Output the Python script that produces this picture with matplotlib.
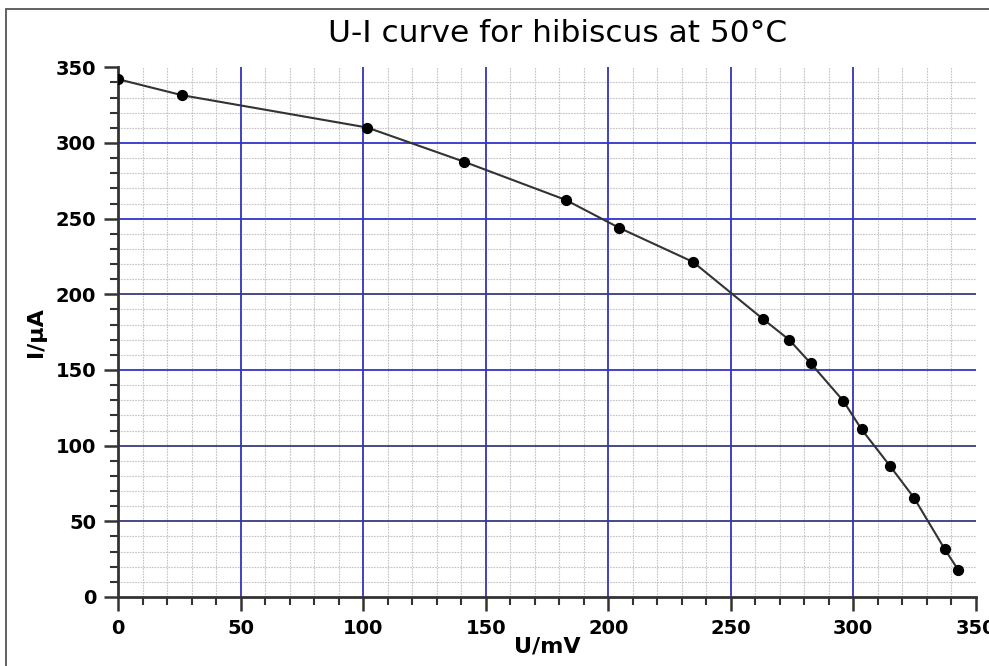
import matplotlib
matplotlib.use("Agg")
import matplotlib.pyplot as plt
from matplotlib.patches import Rectangle
import numpy as np

# Data
voltage_mV = [0, 25.9, 101.6, 141.0, 182.6, 204.5, 234.6, 263.0, 273.9, 282.6,
              295.9, 303.4, 315.0, 324.8, 337.4, 342.9]
current_uA = [342.1, 331.6, 310.2, 287.7, 262.4, 243.9, 221.4, 183.9, 169.9, 154.5,
              129.7, 110.8, 86.6, 65.6, 31.5, 17.8]
x_ticks = [0, 50, 100, 150, 200, 250, 300, 350]
y_ticks = [0, 50, 100, 150, 200, 250, 300, 350]
title = "U-I curve for hibiscus at 50°C"
xlabel = "U/mV"
ylabel = "I/μA"

plt.rcParams['font.family'] = ['DejaVu Sans']

W, H = 989, 666
fig = plt.figure(figsize=(W / 100, H / 100), dpi=100)
fig.patch.set_facecolor('white')

# outer frame
fig.add_artist(Rectangle((6 / W, -0.1), 1.2, 1 - 9 / H + 0.1, transform=fig.transFigure,
                         fill=False, edgecolor='#555555', linewidth=1.3))

x0, x1 = 118.3, 975.7
y0, y1 = 597, 67.3
ax = fig.add_axes([x0 / W, (H - y0) / H, (x1 - x0) / W, (y0 - y1) / H])
ax.set_xlim(0, 350)
ax.set_ylim(0, 350)

# minor grid
for v in range(10, 350, 10):
    if v % 50 != 0:
        ax.axvline(v, color='#c4c4c4', linestyle=(0, (1.5, 1.0)), linewidth=0.8, zorder=1)
        ax.axhline(v, color='#c4c4c4', linestyle=(0, (1.5, 1.0)), linewidth=0.8, zorder=1)
# major grid
for v in x_ticks[1:-1]:
    ax.axvline(v, color='#3333bb', linewidth=1.3, zorder=2)
for v in y_ticks[1:-1]:
    c = '#3a3a80' if v in (50, 100, 200) else '#3333cc'
    ax.axhline(v, color=c, linewidth=1.3, zorder=2)

ax.plot(voltage_mV, current_uA, color='#333333', linewidth=1.5, zorder=3)
ax.scatter(voltage_mV, current_uA, s=50, color='black', zorder=4)

ax.set_xticks(x_ticks)
ax.set_yticks(y_ticks)
ax.set_xticks(np.arange(0, 351, 10), minor=True)
ax.set_yticks(np.arange(0, 351, 10), minor=True)
ax.tick_params(which='major', length=10, width=1.8, color='#333333', labelsize=14, pad=6)
ax.tick_params(which='minor', length=6, width=1.5, color='#333333')
for lab in ax.get_xticklabels() + ax.get_yticklabels():
    lab.set_fontweight('bold')

for s in ['top', 'right']:
    ax.spines[s].set_visible(False)
for s in ['left', 'bottom']:
    ax.spines[s].set_linewidth(2)
    ax.spines[s].set_color('#333333')

ax.set_xlabel(xlabel, fontsize=16, fontweight='bold', labelpad=-1)
ax.set_ylabel(ylabel, fontsize=16, fontweight='bold', labelpad=7)
ax.set_title(title, fontsize=22.5, pad=18, x=0.512)

fig.savefig('out.png', dpi=100)
